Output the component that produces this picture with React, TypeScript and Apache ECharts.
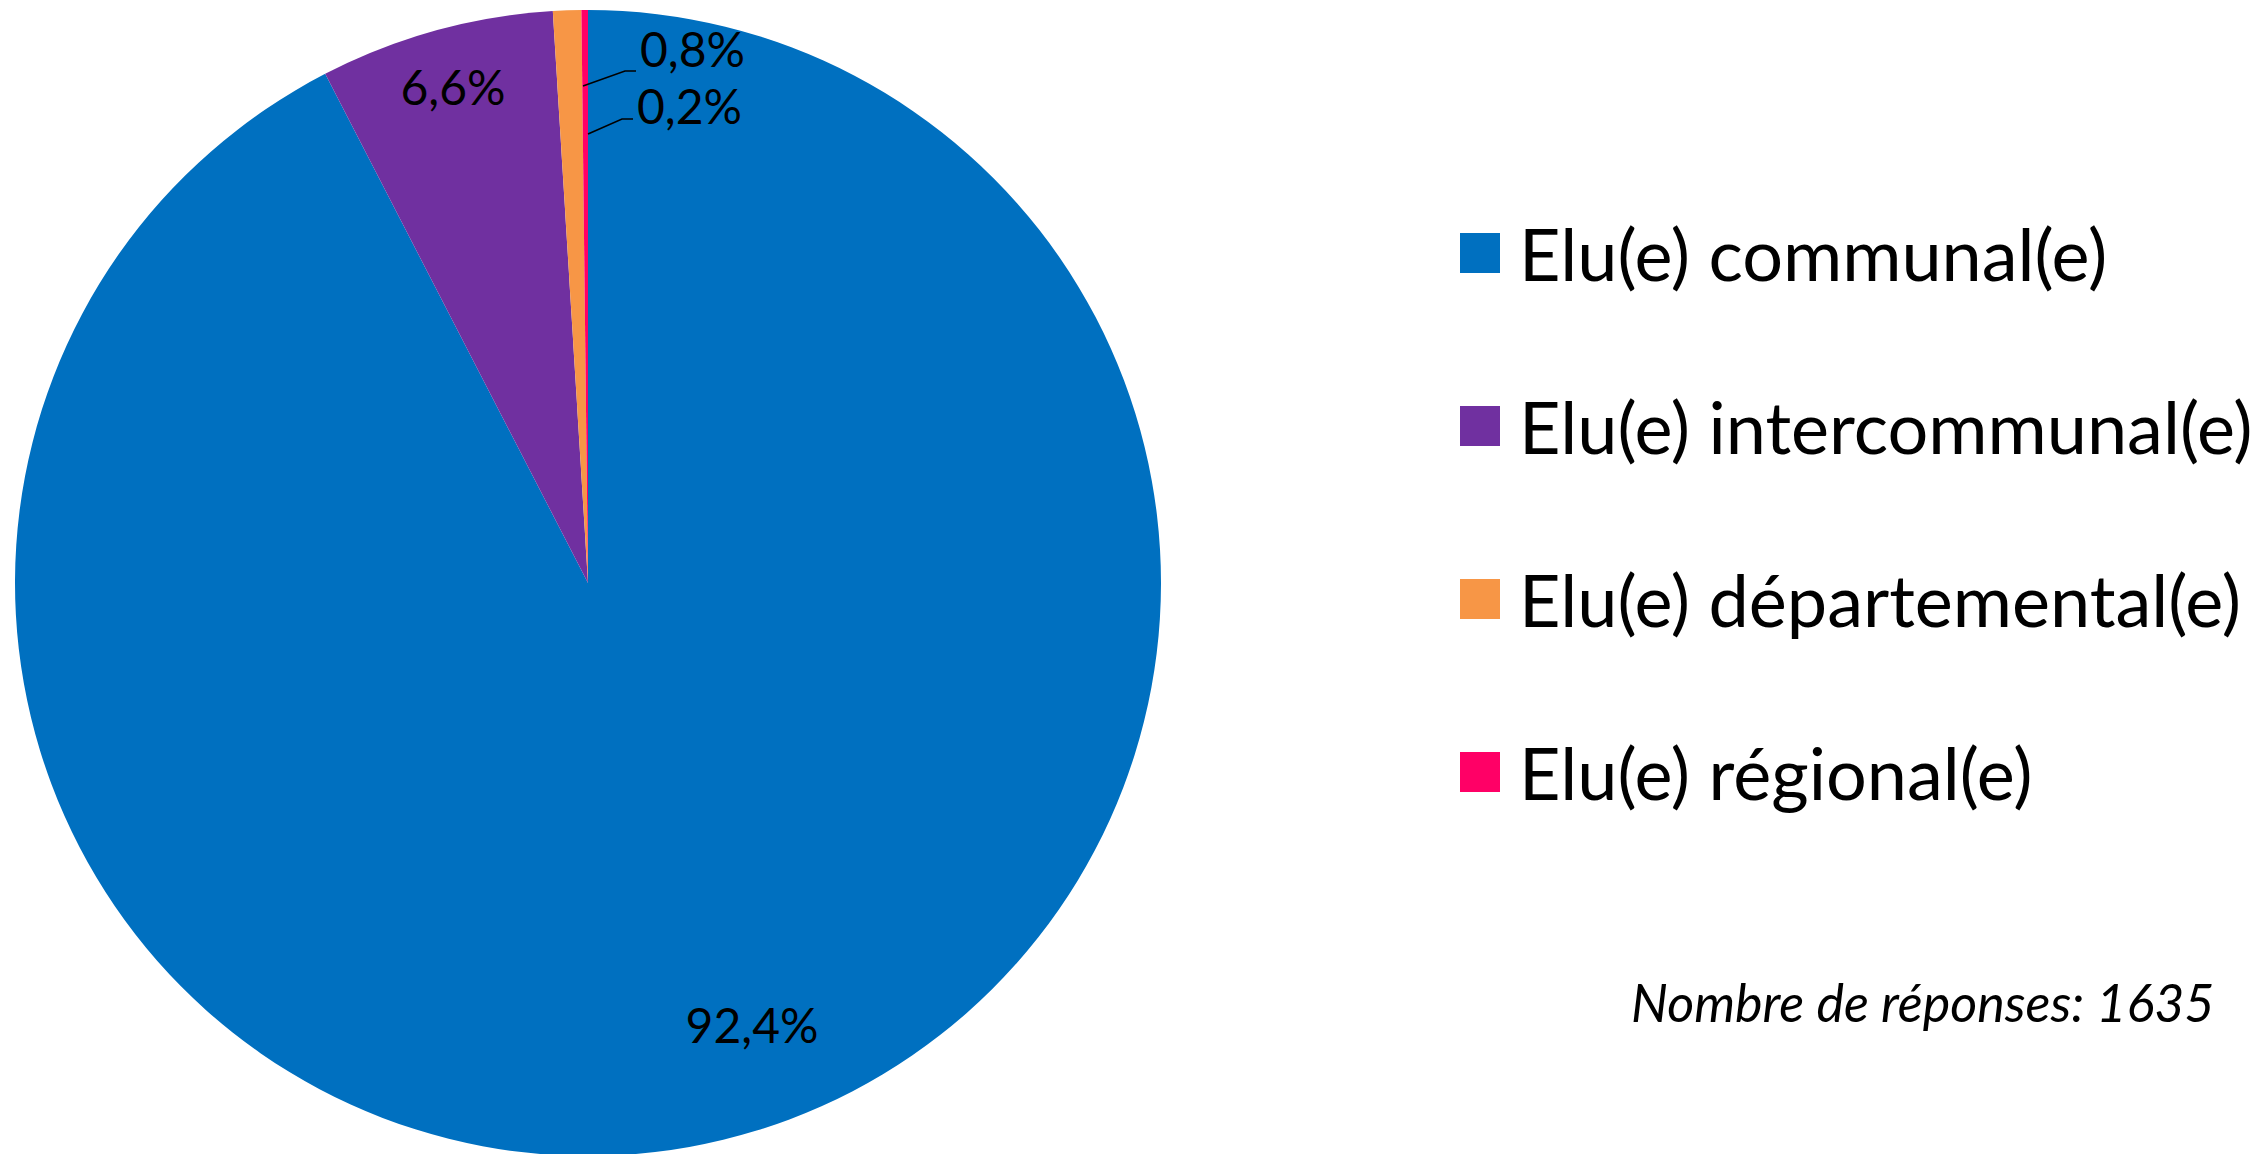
import React, { useEffect, useRef } from "react";
import * as echarts from "echarts";

const categories = [
  "Elu(e) communal(e)",
  "Elu(e) intercommunal(e)",
  "Elu(e) départemental(e)",
  "Elu(e) régional(e)",
];
const responses = [1511, 108, 13, 3];
const colors = ["#0070C0", "#7030A0", "#F79646", "#FF0066"];
const noteText = "Nombre de réponses: 1635";

const W = 2267;
const H = 1154;
const CX = 588;
const CY = 583;
const R = 573;
const FONT = "Lato, 'Noto Sans', sans-serif";

const labelPlacement: { dx: number; dy: number; align: string; line?: number[][] }[] = [
  { dx: 164, dy: 441, align: "center" },
  { dx: -135, dy: -497, align: "center" },
  { dx: 52, dy: -535, align: "left", line: [[-5, -497], [37, -512], [48, -512]] },
  { dx: 49, dy: -478, align: "left", line: [[0, -449], [34, -464], [45, -464]] },
];

export default function App() {
  const ref = useRef<HTMLDivElement>(null);
  useEffect(() => {
    document.body.style.margin = "0";
    const chart = echarts.init(ref.current!, null, { renderer: "svg" });
    const total = responses.reduce((a, b) => a + b, 0);
    const leaderLines = labelPlacement
      .filter((o) => o.line)
      .map((o) => ({
        type: "polyline",
        silent: true,
        z: 100,
        shape: { points: o.line!.map(([a, b]) => [CX + a, CY + b]) },
        style: { stroke: "#000000", lineWidth: 1.6, fill: "none" },
      }));
    chart.setOption({
      animation: false,
      backgroundColor: "#ffffff",
      title: {
        text: noteText,
        left: 1631,
        top: 970,
        padding: 0,
        textStyle: {
          fontFamily: FONT,
          fontStyle: "italic",
          fontWeight: "normal",
          fontSize: 52,
          lineHeight: 64,
          color: "#000000",
        },
      },
      legend: {
        orient: "vertical",
        left: 1460,
        top: 213,
        padding: 0,
        itemWidth: 40,
        itemHeight: 40,
        itemGap: 93,
        icon: "rect",
        selectedMode: false,
        data: categories,
        textStyle: {
          fontFamily: FONT,
          fontSize: 72,
          lineHeight: 80,
          color: "#000000",
          padding: [0, 0, 0, 14],
        },
      },
      graphic: leaderLines,
      series: [
        {
          type: "pie",
          center: [CX, CY],
          radius: R,
          startAngle: 90,
          clockwise: true,
          avoidLabelOverlap: false,
          itemStyle: { borderWidth: 0 },
          label: {
            show: true,
            color: "#000000",
            fontFamily: FONT,
            fontSize: 48,
            lineHeight: 48,
            formatter: (p: any) => ((p.value / total) * 100).toFixed(1).replace(".", ",") + "%",
          },
          labelLine: { show: false },
          labelLayout: (p: any) => {
            const o = labelPlacement[p.dataIndex];
            return {
              x: CX + o.dx,
              y: CY + o.dy,
              align: o.align,
              verticalAlign: "middle",
            };
          },
          emphasis: { disabled: true },
          data: categories.map((name, i) => ({
            name,
            value: responses[i],
            itemStyle: { color: colors[i] },
            label: { position: i < 2 ? "inside" : "outside" },
          })),
        },
      ],
    });
    return () => chart.dispose();
  }, []);
  return <div ref={ref} style={{ width: W, height: H }} />;
}
